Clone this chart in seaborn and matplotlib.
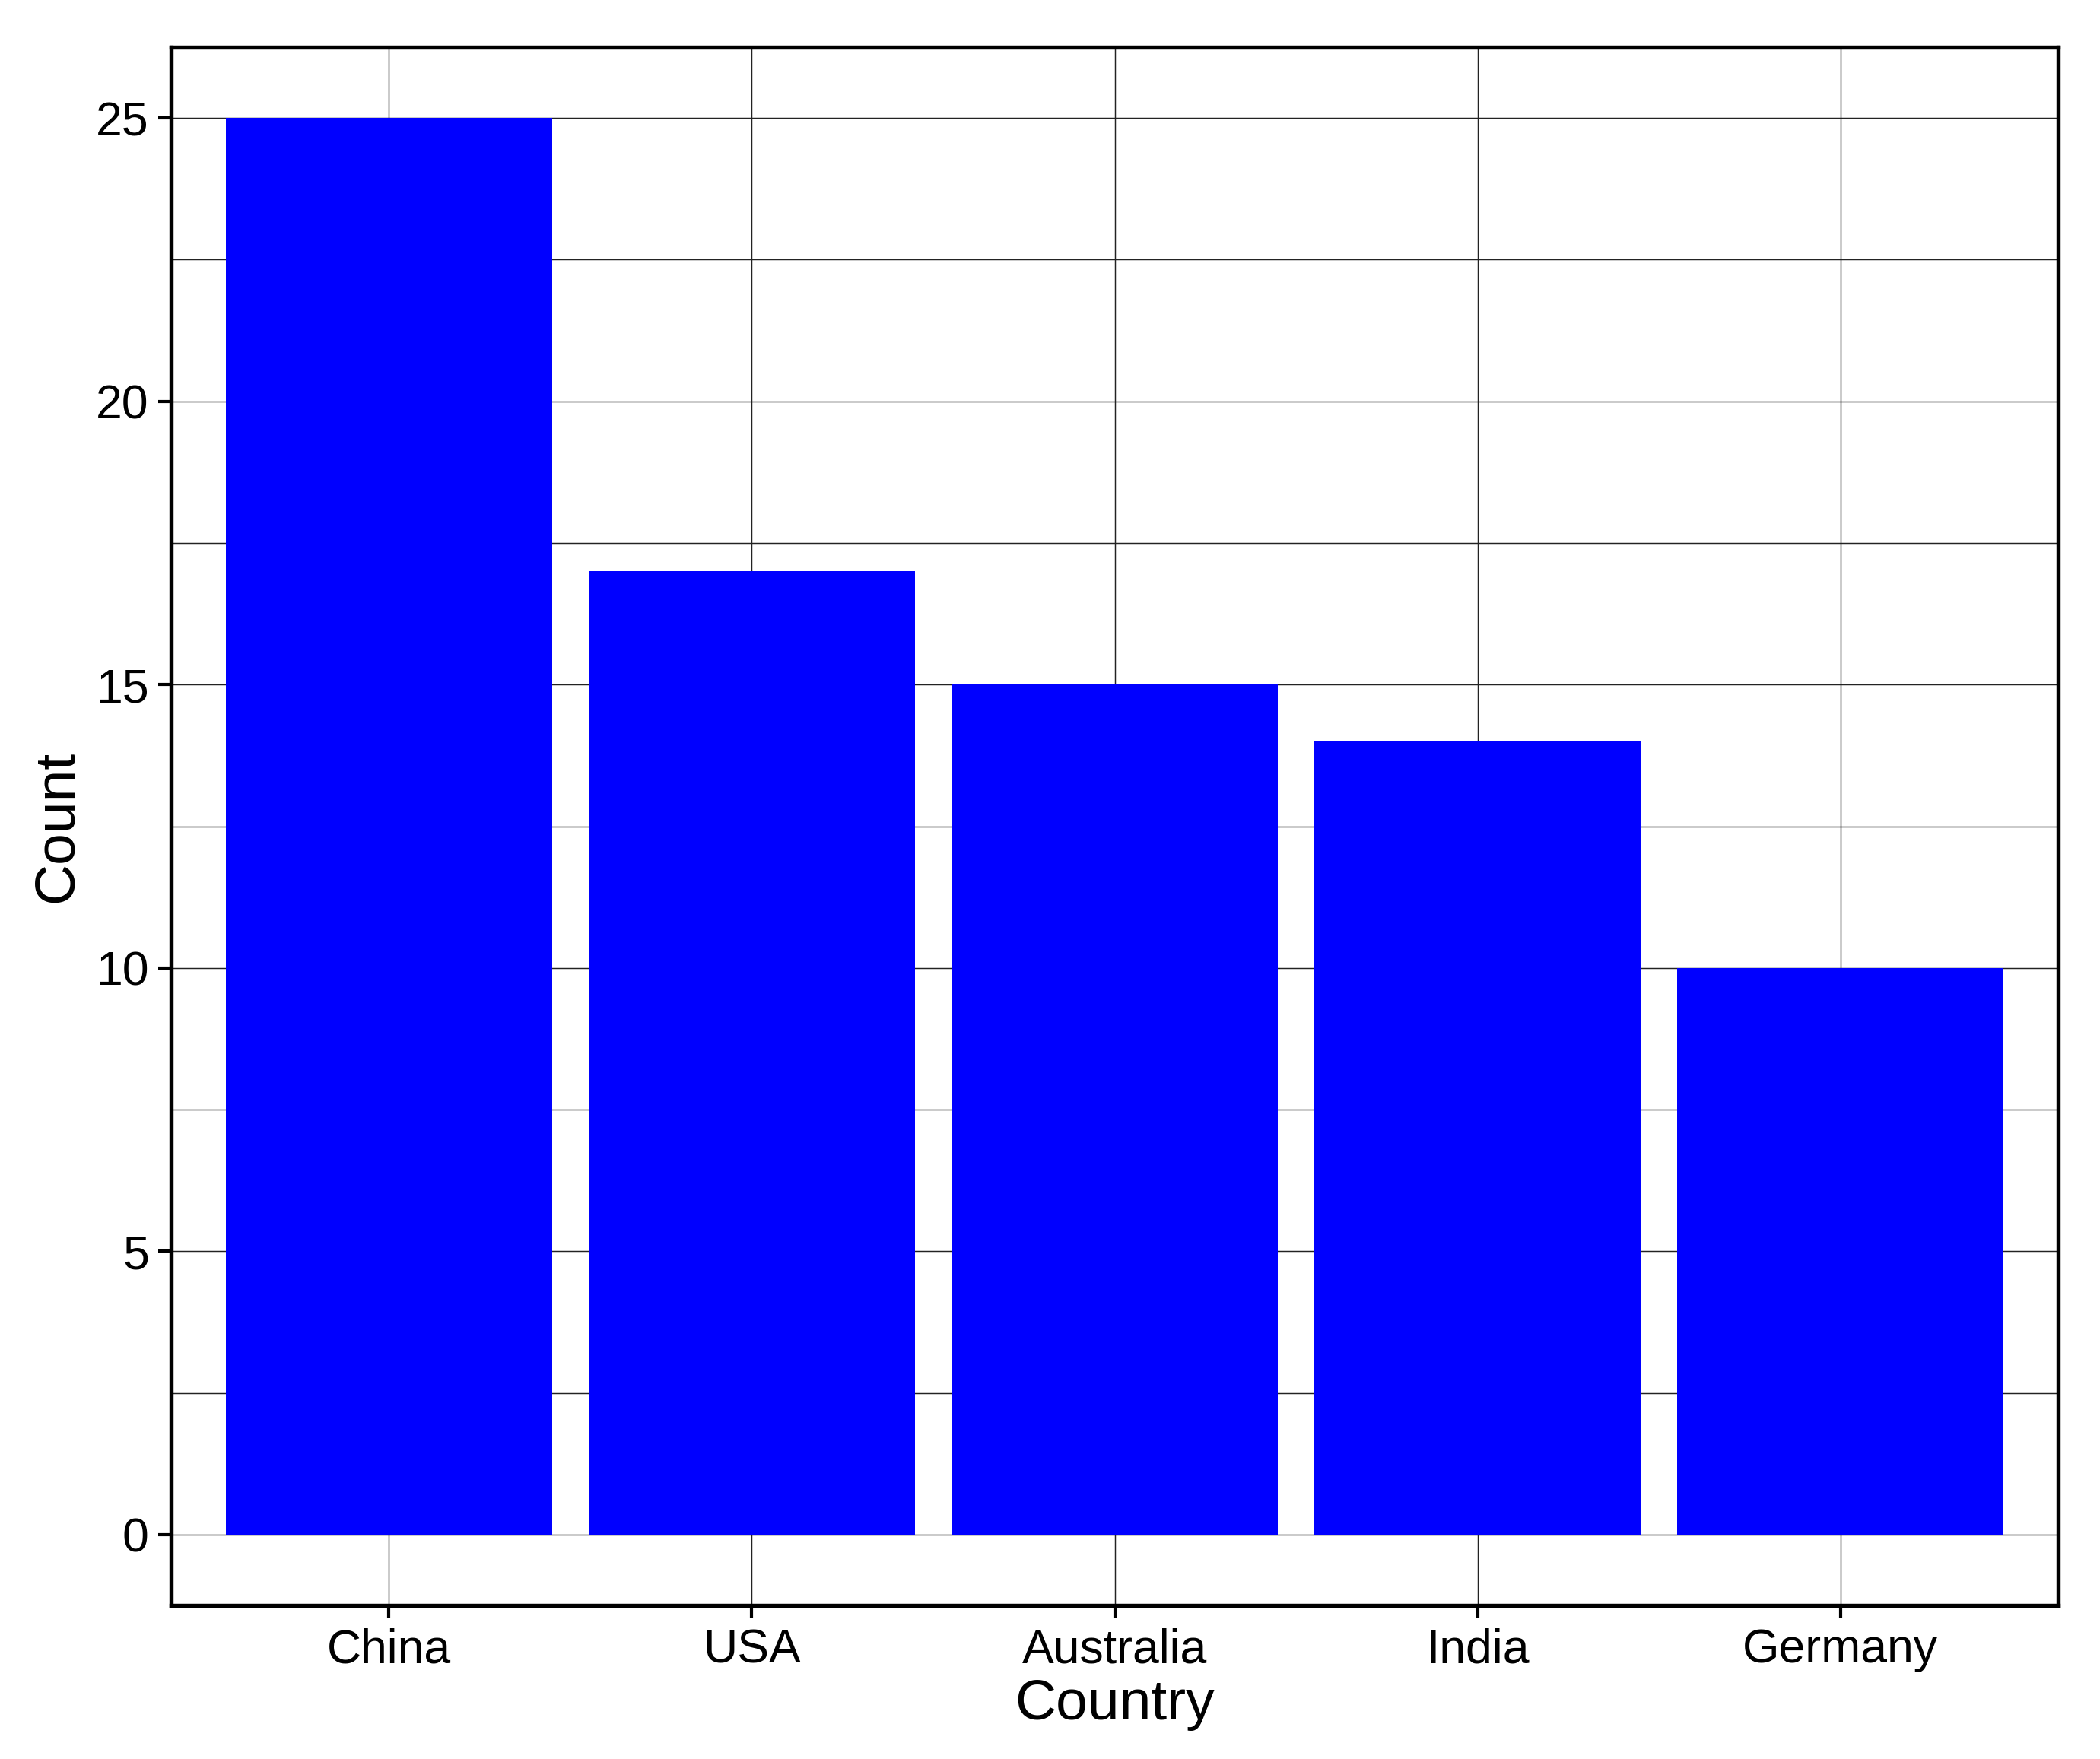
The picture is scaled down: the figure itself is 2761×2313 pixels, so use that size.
import matplotlib
matplotlib.use("Agg")
import matplotlib.pyplot as plt
import pandas as pd
import seaborn as sns
from matplotlib.ticker import MultipleLocator

countries = ["China", "USA", "Australia", "India", "Germany"]
counts = [25, 17, 15, 14, 10]

df = pd.DataFrame({"Country": countries, "Count": counts})

sns.set_style("white")
plt.rcParams["font.family"] = ["Liberation Sans", "DejaVu Sans"]

fig = plt.figure(figsize=(2761 / 300, 2313 / 300), dpi=300)
ax = fig.add_axes([225 / 2761, 1 - 2111 / 2313, (2706 - 225) / 2761, (2111 - 62) / 2313])

sns.barplot(data=df, x="Country", y="Count", color="#0000ff", saturation=1,
            width=0.9, linewidth=0, ax=ax, zorder=2)

ax.set_xlim(-0.6, 4.6)
ax.set_ylim(-1.25, 26.25)
ax.yaxis.set_major_locator(MultipleLocator(5))
ax.yaxis.set_minor_locator(MultipleLocator(2.5))
ax.grid(True, which="major", color="#222222", linewidth=0.35, zorder=0)
ax.grid(True, which="minor", axis="y", color="#222222", linewidth=0.35, zorder=0)
ax.set_axisbelow(True)

for s in ax.spines.values():
    s.set_visible(True)
    s.set_color("black")
    s.set_linewidth(1.3)

ax.tick_params(axis="both", which="major", direction="out", length=4, width=1,
               color="black", labelsize=15, labelcolor="black", left=True, bottom=True,
               pad=3)
ax.tick_params(axis="y", which="minor", length=0)
ax.set_xlabel("Country", fontsize=18, color="black", labelpad=2)
ax.set_ylabel("Count", fontsize=18, color="black")

fig.savefig("out.png", dpi=300, facecolor="white")
